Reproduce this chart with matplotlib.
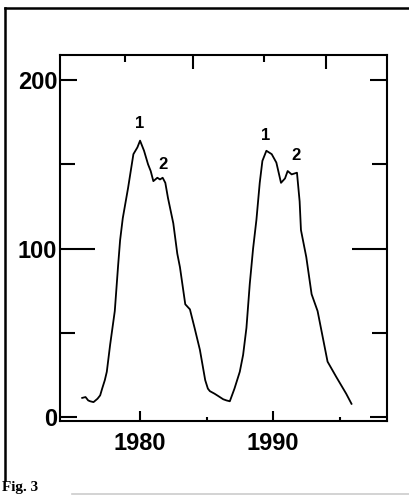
import matplotlib
matplotlib.use("Agg")
import matplotlib.pyplot as plt
from matplotlib.lines import Line2D

# sunspot number
years = [1975.65, 1975.9, 1976.1, 1976.25, 1976.5, 1976.8, 1977.0, 1977.15,
         1977.35, 1977.5, 1977.75, 1978.1, 1978.35, 1978.5, 1978.7, 1979.1,
         1979.5, 1979.8, 1980.0, 1980.3, 1980.6, 1980.8, 1981.0, 1981.3,
         1981.5, 1981.7, 1981.9, 1982.1, 1982.5, 1982.8, 1983.0, 1983.2,
         1983.4, 1983.75, 1984.1, 1984.5, 1984.9, 1985.1, 1985.25, 1985.6,
         1985.9, 1986.25, 1986.5, 1986.75, 1987.1, 1987.5, 1987.75, 1988.0,
         1988.25, 1988.5, 1988.75, 1989.0, 1989.2, 1989.5, 1989.9, 1990.25,
         1990.6, 1990.9, 1991.1, 1991.4, 1991.8, 1992.0, 1992.1, 1992.5,
         1992.9, 1993.35, 1993.7, 1994.1, 1994.75, 1995.2, 1995.5, 1995.9]
values = [11.5, 12, 10, 9.5, 9, 11, 13, 17,
          22, 27, 43, 63, 90, 105, 118, 136,
          156, 160, 164, 158, 150, 146, 140, 142,
          141, 142, 139, 130, 115, 97, 89, 78,
          67, 64, 53, 40, 22, 17, 15.5, 14,
          12.5, 10.7, 10, 9.5, 17, 27, 37, 53,
          79, 100, 117, 139, 152, 158, 156, 151,
          139, 141.6, 146, 144, 145, 128, 111, 95,
          73, 63, 49, 33, 24, 18, 14, 8]

peak_labels = ["1", "2", "1", "2"]
peak_x = [1980.0, 1981.7, 1989.45, 1991.7]
peak_y = [174, 150, 167, 155]

plt.rcParams["font.family"] = ["Liberation Sans", "DejaVu Sans"]

fig = plt.figure(figsize=(4.09, 4.96), dpi=100)
ax = fig.add_axes([0.1467, 0.1512, 0.7995, 0.738])

ax.plot(years, values, color="black", lw=1.3)

for lab, x, y in zip(peak_labels, peak_x, peak_y):
    ax.text(x, y, lab, ha="center", va="center", fontsize=12, fontweight="bold")

ax.set_xlim(1973.98, 1998.57)
ax.set_ylim(-2.2, 214.8)

ax.set_xticks([1980, 1990])
ax.set_xticks([1985, 1995], minor=True)
ax.set_yticks([0, 100, 200])
ax.set_yticks([50, 150], minor=True)
ax.tick_params(axis="both", which="both", direction="in", width=1.5,
               labelsize=17, top=False, right=True)
ax.tick_params(axis="x", which="major", length=7, pad=8)
ax.tick_params(axis="x", which="minor", length=3)
ax.tick_params(axis="y", which="major", length=12, pad=2)
ax.tick_params(axis="y", which="minor", length=11)
for t in ax.yaxis.get_major_ticks()[1:2]:
    t.tick1line.set_markersize(25)
    t.tick2line.set_markersize(25)
for lab in ax.get_xticklabels() + ax.get_yticklabels():
    lab.set_fontweight("bold")

top = ax.secondary_xaxis("top")
top.set_xticks([1984, 1994])
top.set_xticks([1978.9, 1989.3], minor=True)
top.tick_params(which="major", direction="in", length=10, width=1.5, labeltop=False)
top.tick_params(which="minor", direction="in", length=5, width=1.5)
top.spines["top"].set_visible(False)

for s in ax.spines.values():
    s.set_linewidth(1.5)

# outer frame of the page
fig.add_artist(Line2D([5 / 409, 5 / 409], [1 - 480 / 496, 1 - 8 / 496],
                      color="black", lw=1.8, transform=fig.transFigure))
fig.add_artist(Line2D([5 / 409, 1.0], [1 - 8 / 496, 1 - 8 / 496],
                      color="black", lw=1.8, transform=fig.transFigure))
fig.add_artist(Line2D([72 / 409, 1.0], [1 - 494 / 496, 1 - 494 / 496],
                      color="#cccccc", lw=1.2, transform=fig.transFigure))
fig.text(2 / 409, 1 - 481 / 496, "Fig. 3", family=["Liberation Serif", "DejaVu Serif"],
         fontsize=11, fontweight="bold", va="top", ha="left")

fig.savefig("out.png", dpi=100)
